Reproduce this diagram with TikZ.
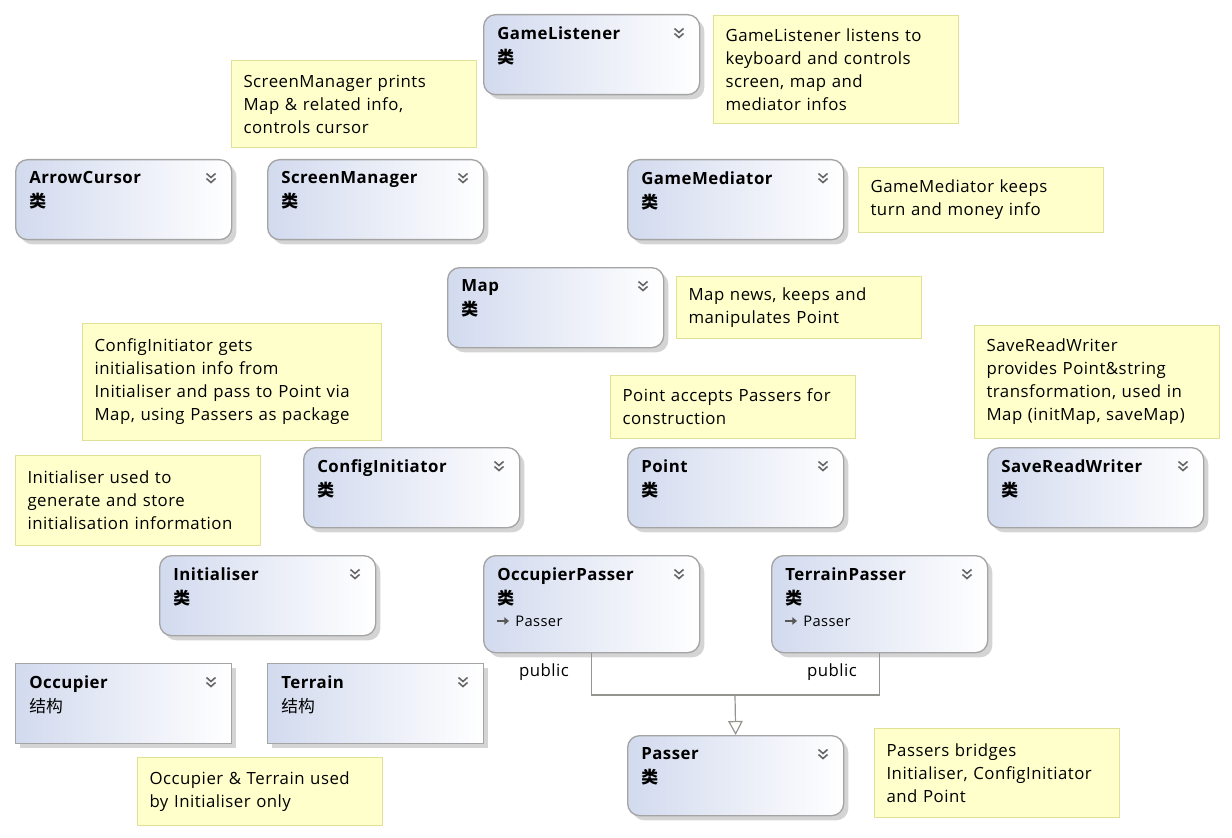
\documentclass[tikz,border=0pt]{standalone}
\usepackage{fontspec}
\setmainfont{Open Sans}[LetterSpace=3]
\newfontfamily\cjk{Noto Sans CJK SC}
\usetikzlibrary{shadows,arrows.meta,positioning}

\definecolor{clsborder}{HTML}{A4A4A4}
\definecolor{clsleft}{HTML}{D2DAEE}
\definecolor{notefill}{HTML}{FFFFCC}
\definecolor{noteborder}{HTML}{E0E096}
\definecolor{linegray}{HTML}{959590}

\tikzset{
  chev/.pic={\draw[black!60, line width=1.2pt] (-4.5,-5.5) -- (0,-1.5) -- (4.5,-5.5) (-4.5,-0.5) -- (0,3.5) -- (4.5,-0.5);}
}

\begin{document}
\begin{tikzpicture}[x=0.75pt,y=-0.75pt,
  every node/.append style={font=\fontsize{12.6pt}{17.25pt}\selectfont},
  cls/.style={draw=clsborder, line width=1pt, rounded corners=9pt, left color=clsleft, right color=white, anchor=north west, minimum width=162pt, minimum height=60pt, inner sep=0pt, drop shadow={shadow xshift=3.5pt, shadow yshift=-3.5pt, fill=black!17, opacity=1}},
  strct/.style={cls, sharp corners},
  ttl/.style={anchor=north west, align=left, inner sep=0pt, font=\fontsize{12.6pt}{18pt}\selectfont},
  note/.style={draw=noteborder, fill=notefill, line width=0.8pt, anchor=north west, align=left, text width=165.75pt, inner xsep=9pt, inner ysep=0pt},
  gen/.style={draw=linegray, line width=0.9pt},
  lbl/.style={inner sep=1pt}]
  \useasboundingbox (0,0) rectangle (1232,838);

  % classes
  \foreach \n/\x/\y/\t in {gl/483/14/GameListener, ac/15/159/ArrowCursor, sm/267/159/ScreenManager, gm/627/159/GameMediator, map/447/267/Map, ci/303/447/ConfigInitiator, pt/627/447/Point, srw/987/447/SaveReadWriter, ini/159/555/Initialiser, pa/627/735/Passer}{
    \node[cls] (\n) at (\x,\y) {};
    \node[ttl] (\n-t) at ([shift={(14,12)}]\n.north west) {\textbf{\t}\\{\cjk\bfseries 类}};
    \pic at ([shift={(196,20)}]\n.north west) {chev};
  }
  \foreach \n/\x/\y/\t in {op/483/555/OccupierPasser, tp/771/555/TerrainPasser}{
    \node[cls, minimum height=72.75pt] (\n) at (\x,\y) {};
    \node[ttl] (\n-t) at ([shift={(14,12)}]\n.north west) {\textbf{\t}\\{\cjk\bfseries 类}};
    \node[inner sep=0pt, anchor=west, font=\fontsize{11pt}{12pt}\selectfont] (\n-b) at ([shift={(32,66)}]\n.north west) {Passer};
    \draw[black!65, line width=1.6pt, -{Triangle[length=3.5pt, width=5.5pt]}] ([shift={(14,66)}]\n.north west) -- ([shift={(26,66)}]\n.north west);
    \pic at ([shift={(196,20)}]\n.north west) {chev};
  }
  \foreach \n/\x/\y/\t in {occ/15/663/Occupier, ter/267/663/Terrain}{
    \node[strct] (\n) at (\x,\y) {};
    \node[ttl] (\n-t) at ([shift={(14,12)}]\n.north west) {\textbf{\t}\\{\cjk 结构}};
    \pic at ([shift={(196,20)}]\n.north west) {chev};
  }

  % notes
  \node[note, minimum height=81pt] (gl-n) at (713,15) {GameListener listens to\\keyboard and controls\\screen, map and\\mediator infos};
  \node[note, minimum height=65.25pt] (sm-n) at (231,60) {ScreenManager prints\\Map \& related info,\\controls cursor};
  \node[note, minimum height=48.75pt] (gm-n) at (858,167) {GameMediator keeps\\turn and money info};
  \node[note, minimum height=46.5pt] (map-n) at (676,276) {Map news, keeps and\\manipulates Point};
  \node[note, minimum height=87.75pt, text width=206.25pt] (ci-n) at (82,323) {ConfigInitiator gets\\initialisation info from\\Initialiser and pass to Point via\\Map, using Passers as package};
  \node[note, minimum height=47.25pt] (pt-n) at (610,375) {Point accepts Passers for\\construction};
  \node[note, minimum height=84.75pt] (srw-n) at (974,325) {SaveReadWriter\\provides Point\&string\\transformation, used in\\Map (initMap, saveMap)};
  \node[note, minimum height=67.5pt] (ini-n) at (15,455) {Initialiser used to\\generate and store\\initialisation information};
  \node[note, minimum height=51pt] (occ-n) at (137,757) {Occupier \& Terrain used\\by Initialiser only};
  \node[note, minimum height=66.75pt] (pa-n) at (874,728) {Passers bridges\\Initialiser, ConfigInitiator\\and Point};

  % inheritance
  \coordinate (jn) at (735,695);
  \draw[gen] (op.south) |- (jn) -| (tp.south);
  \draw[gen, -{Triangle[length=10.5pt, width=11pt, fill=white]}] (jn) -- (pa.north);
  \node[lbl] (op-pub) at (544,672) {public};
  \node[lbl] (tp-pub) at (832,672) {public};
\end{tikzpicture}
\end{document}
